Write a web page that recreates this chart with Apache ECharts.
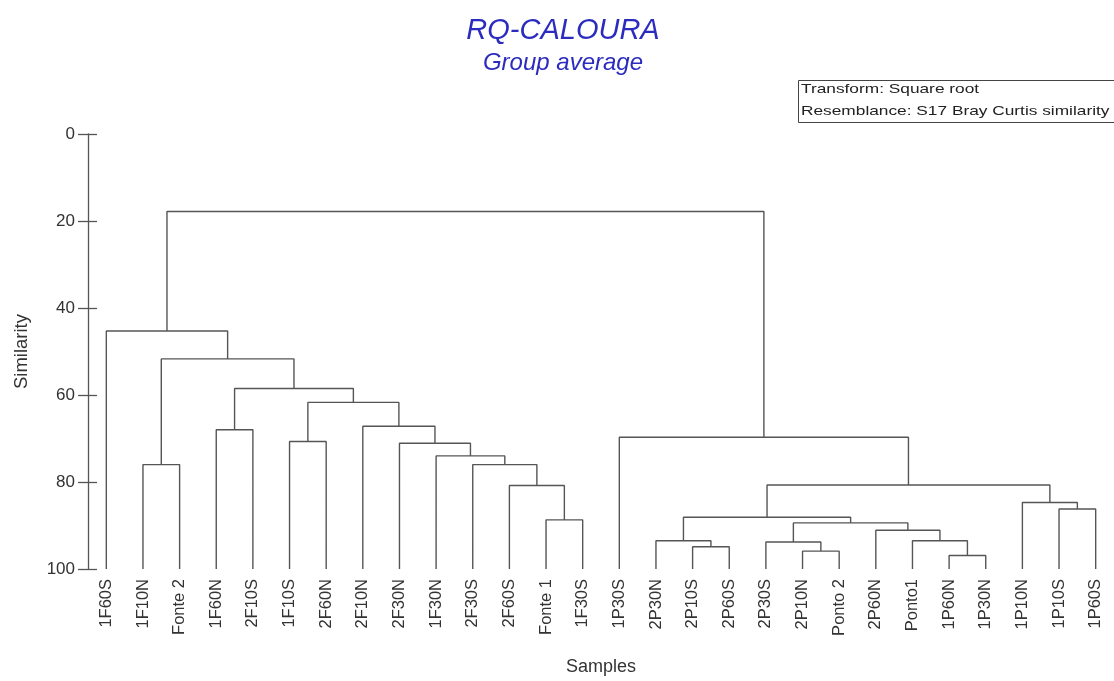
<!DOCTYPE html>
<html>
<head>
<meta charset="utf-8">
<script src="https://cdn.jsdelivr.net/npm/echarts@6/dist/echarts.min.js"></script>
<style>html,body{margin:0;padding:0;background:#fff;}#c{width:1114px;height:681px;}</style>
</head>
<body>
<div id="c"></div>
<script>
// Leaf labels (left to right)
var leaves = ['1F60S','1F10N','Fonte 2','1F60N','2F10S','1F10S','2F60N','2F10N','2F30N','1F30N','2F30S','2F60S','Fonte 1','1F30S','1P30S','2P30N','2P10S','2P60S','2P30S','2P10N','Ponto 2','2P60N','Ponto1','1P60N','1P30N','1P10N','1P10S','1P60S'];
// Merges: node ids 0..27 are leaves, merge k creates node 28+k
var mergeLeft  = [23, 19, 16, 18, 15, 22, 21, 31, 12, 32, 26, 25, 11, 37, 1, 10, 9, 8, 5, 14, 3, 7, 46, 48, 42, 0, 53];
var mergeRight = [24, 20, 17, 29, 30, 28, 33, 34, 13, 35, 27, 38, 36, 39, 2, 40, 43, 44, 6, 41, 4, 45, 49, 50, 51, 52, 47];
var mergeSim   = [96.9, 95.9, 94.9, 93.8, 93.5, 93.5, 91.1, 89.4, 88.7, 88.1, 86.2, 84.7, 80.8, 80.7, 76.0, 76.0, 74.0, 71.1, 70.7, 69.7, 68.0, 67.2, 61.7, 58.5, 51.7, 45.3, 17.8];
var yTicks = [0, 20, 40, 60, 80, 100];

var n = leaves.length;
var nodeX = [], nodeY = [];
for (var i = 0; i < n; i++) { nodeX.push(i); nodeY.push(100); }
var segs = [];
for (var k = 0; k < mergeSim.length; k++) {
  var a = mergeLeft[k], b = mergeRight[k], h = mergeSim[k];
  segs.push([nodeX[a], nodeY[a]], [nodeX[a], h], [nodeX[b], h], [nodeX[b], nodeY[b]], '-');
  nodeX.push((nodeX[a] + nodeX[b]) / 2);
  nodeY.push(h);
}

var chart = echarts.init(document.getElementById('c'));
var font = 'Liberation Sans, Arial, sans-serif';
var axisColor = '#555';
var yBase = {
  type: 'value', inverse: true, min: yTicks[0], max: yTicks[yTicks.length - 1], interval: 20,
  splitLine: {show: false}
};
chart.setOption({
  animation: false,
  backgroundColor: '#ffffff',
  title: [
    {text: 'RQ-CALOURA', left: 558, top: 11, textAlign: 'center',
     textStyle: {fontFamily: font, fontStyle: 'italic', fontWeight: 'normal', fontSize: 29, color: '#2b2bbf'}},
    {text: 'Group average', left: 558, top: 46, textAlign: 'center',
     textStyle: {fontFamily: font, fontStyle: 'italic', fontWeight: 'normal', fontSize: 24, color: '#2b2bbf'}}
  ],
  graphic: [
    {type: 'rect', left: 798, top: 80, shape: {width: 320, height: 42}, style: {fill: '#fff', stroke: '#444', lineWidth: 1}},
    {type: 'text', x: 801, y: 83, scaleX: 1.33, style: {text: 'Transform: Square root', fontFamily: font, fontSize: 13, fill: '#222'}},
    {type: 'text', x: 801, y: 105, scaleX: 1.33, style: {text: 'Resemblance: S17 Bray Curtis similarity', fontFamily: font, fontSize: 13, fill: '#222'}}
  ],
  grid: {left: 88, right: 0, top: 134, bottom: 108, containLabel: false},
  xAxis: [
    {type: 'category', data: leaves, boundaryGap: true, position: 'bottom',
     axisLine: {show: false}, axisTick: {show: false},
     axisLabel: {rotate: 90, margin: 10, fontFamily: font, fontSize: 16.5, color: '#333', interval: 0},
     name: 'Samples', nameLocation: 'middle', nameGap: 89,
     nameTextStyle: {fontFamily: font, fontSize: 18, color: '#333'}},
    {type: 'value', min: -0.5, max: n - 0.5, show: false}
  ],
  yAxis: [
    Object.assign({}, yBase, {
      position: 'left',
      axisLine: {show: true, onZero: false, lineStyle: {color: axisColor, width: 1.3}},
      axisTick: {show: true, length: 10, lineStyle: {color: axisColor, width: 1.3}},
      axisLabel: {fontFamily: font, fontSize: 17, color: '#333', margin: 13},
      name: 'Similarity', nameLocation: 'middle', nameGap: 57, nameRotate: 90,
      nameTextStyle: {fontFamily: font, fontSize: 18.5, color: '#333'}
    }),
    Object.assign({}, yBase, {
      position: 'left',
      axisLine: {show: false, onZero: false},
      axisTick: {show: true, inside: true, length: 9, lineStyle: {color: axisColor, width: 1.3}},
      axisLabel: {show: false}
    })
  ],
  series: [{
    type: 'line', xAxisIndex: 1, yAxisIndex: 0, data: segs, symbol: 'none', connectNulls: false,
    lineStyle: {color: '#555', width: 1.4}, silent: true
  }]
});
</script>
</body>
</html>
